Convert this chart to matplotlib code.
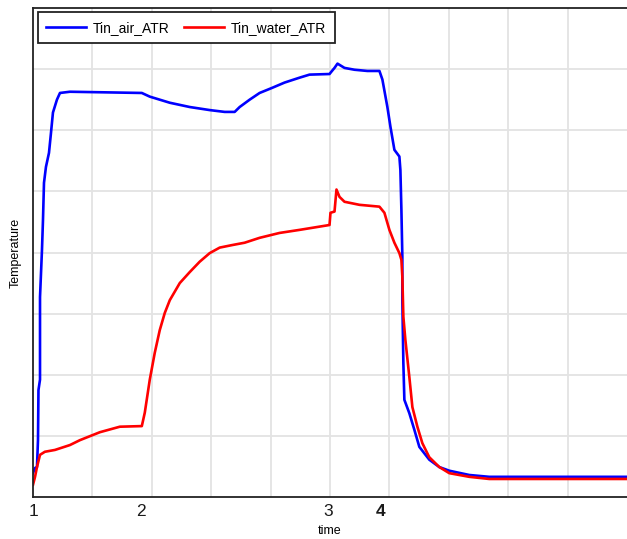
import matplotlib
matplotlib.use("Agg")
import matplotlib.pyplot as plt

# time (grid units) and temperature (grid units)
air_t = [0, 0.034, 0.067, 0.084, 0.092, 0.118, 0.118, 0.151, 0.168, 0.185, 0.218, 0.269,
         0.303, 0.336, 0.403, 0.454, 0.622, 1.832, 1.966, 2.303, 2.639, 2.975, 3.227,
         3.395, 3.479, 3.647, 3.815, 4.017, 4.235, 4.487, 4.655, 4.992, 5.025, 5.076,
         5.126, 5.244, 5.412, 5.63, 5.832, 5.882, 5.966, 6.017, 6.084, 6.168, 6.185,
         6.202, 6.218, 6.218, 6.235, 6.252, 6.336, 6.42, 6.504, 6.672, 6.84, 7.008,
         7.345, 7.681, 10]
air_T = [0.39, 0.475, 0.49, 0.93, 1.75, 1.92, 3.27, 4.04, 4.53, 5.14, 5.40, 5.63,
         5.96, 6.29, 6.50, 6.61, 6.63, 6.61, 6.55, 6.45, 6.38, 6.33, 6.30,
         6.30, 6.38, 6.50, 6.61, 6.69, 6.78, 6.86, 6.91, 6.92, 6.96, 7.02,
         7.09, 7.02, 6.99, 6.97, 6.97, 6.83, 6.38, 6.06, 5.68, 5.57, 5.35,
         4.70, 3.93, 3.22, 2.19, 1.59, 1.37, 1.10, 0.82, 0.61, 0.49, 0.43,
         0.36, 0.33, 0.33]

water_t = [0, 0.034, 0.067, 0.118, 0.20, 0.37, 0.622, 0.79, 1.126, 1.462, 1.832, 1.882,
           1.966, 2.05, 2.134, 2.218, 2.303, 2.471, 2.639, 2.807, 2.975, 3.143, 3.345,
           3.563, 3.815, 4.151, 4.487, 4.992, 5.008, 5.076, 5.109, 5.16, 5.244, 5.496,
           5.832, 5.916, 6.0, 6.084, 6.168, 6.202, 6.218, 6.235, 6.269, 6.336, 6.387,
           6.471, 6.555, 6.672, 6.84, 7.008, 7.345, 7.681, 10]
water_T = [0.20, 0.33, 0.49, 0.69, 0.74, 0.77, 0.85, 0.93, 1.06, 1.15, 1.16, 1.38,
           1.92, 2.36, 2.73, 3.01, 3.22, 3.50, 3.68, 3.85, 3.99, 4.08, 4.12,
           4.16, 4.24, 4.32, 4.37, 4.45, 4.65, 4.67, 5.03, 4.91, 4.83, 4.78,
           4.75, 4.65, 4.37, 4.16, 3.99, 3.88, 3.60, 2.95, 2.57, 1.96, 1.47,
           1.15, 0.88, 0.65, 0.49, 0.39, 0.33, 0.295, 0.295]

tick_pos = [0, 1.815, 4.97, 5.85]
tick_lab = ["1", "2", "3", "4"]

plt.rcParams['font.family'] = ['Liberation Sans', 'DejaVu Sans']

fig = plt.figure(figsize=(6.27, 5.39), dpi=100)
ax = fig.add_axes([33/627, 42/539, 594/627, 489/539])

# grid
for gx in range(1, 10):
    ax.axvline(gx, color='#e3e3e3', lw=1.3, zorder=0)
for gy in range(1, 8):
    ax.axhline(gy, color='#e3e3e3', lw=1.3, zorder=0)

ax.plot(air_t, air_T, color='#0000ff', lw=1.9, label='Tin_air_ATR')
ax.plot(water_t, water_T, color='#ff0000', lw=1.9, label='Tin_water_ATR')

ax.set_xlim(0, 10)
ax.set_ylim(0, 8)
ax.set_yticks([])
ax.set_xticks(tick_pos)
ax.set_xticklabels(tick_lab, fontsize=12.5, color='#1a1a1a')
ax.get_xticklabels()[3].set_fontweight('bold')
ax.tick_params(axis='x', length=0, pad=5)
ax.set_xlabel('time', fontsize=9, labelpad=4)
ax.set_ylabel('Temperature', fontsize=9, labelpad=8)
for s in ax.spines.values():
    s.set_color('#222222')
    s.set_linewidth(1.3)
ax.spines['right'].set_visible(False)

leg = ax.legend(loc='upper left', bbox_to_anchor=(0.003, 0.997), ncol=2, fontsize=10,
                frameon=True, fancybox=False, handlelength=2.9, handletextpad=0.5,
                columnspacing=1.0, borderpad=0.6, borderaxespad=0.2)
leg.get_frame().set_edgecolor('#222222')
leg.get_frame().set_linewidth(1.3)
leg.get_frame().set_alpha(1)

fig.savefig('out.png', dpi=100)
